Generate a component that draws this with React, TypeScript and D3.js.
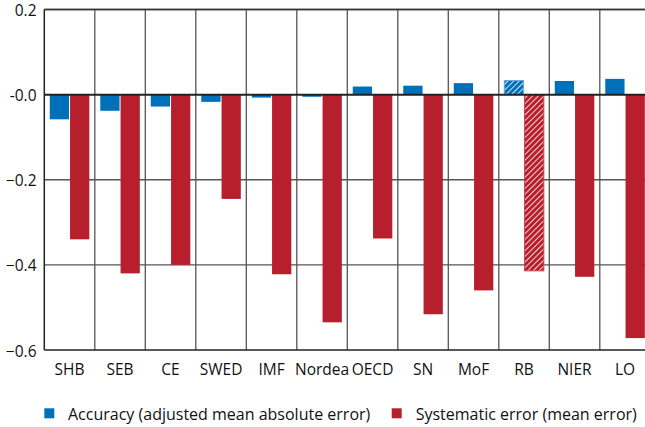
import * as d3 from 'd3';

const categories = ['SHB', 'SEB', 'CE', 'SWED', 'IMF', 'Nordea', 'OECD', 'SN', 'MoF', 'RB', 'NIER', 'LO'];
const accuracy = [-0.058, -0.038, -0.028, -0.017, -0.007, -0.005, 0.019, 0.021, 0.027, 0.033, 0.032, 0.037];
const systematic = [-0.34, -0.42, -0.40, -0.245, -0.422, -0.535, -0.338, -0.516, -0.46, -0.414, -0.428, -0.572];
const hatched = ['RB'];
const yTicks = [0.2, 0, -0.2, -0.4, -0.6];
const seriesNames = ['Accuracy (adjusted mean absolute error)', 'Systematic error (mean error)'];

const BLUE = '#0070b9';
const RED = '#b71f2d';
const FONT = '"Open Sans", Lato, sans-serif';

export default function App() {
  const width = 645;
  const height = 427;
  const left = 44.3;
  const step = 50.5;
  const right = left + step * categories.length;

  const x = d3.scaleBand<string>().domain(categories).range([left, right]);
  const inner = d3.scaleBand<string>().domain(['acc', 'sys']).range([0, step]).paddingOuter(0.27).paddingInner(0.05);
  const y = d3.scaleLinear().domain([-0.6, 0.2]).range([350, 9.5]);

  const fmt = (v: number) => (v === 0 ? '-0.0' : d3.format('.1f')(v));

  return (
    <svg width={width} height={height} style={{ position: 'absolute', left: 0, top: 0, background: '#fff' }}>
      <defs>
        <pattern id="hatchBlue" width="4" height="4" patternUnits="userSpaceOnUse" patternTransform="rotate(45)">
          <rect width="4" height="4" fill={BLUE} />
          <line x1="0" y1="0" x2="0" y2="4" stroke="#fff" strokeWidth="1.6" />
        </pattern>
        <pattern id="hatchRed" width="4" height="4" patternUnits="userSpaceOnUse" patternTransform="rotate(45)">
          <rect width="4" height="4" fill={RED} />
          <line x1="0" y1="0" x2="0" y2="4" stroke="#fff" strokeWidth="1.6" />
        </pattern>
      </defs>

      {/* horizontal grid */}
      {yTicks.filter(t => t !== 0 && t !== -0.6).map(t => (
        <line key={t} x1={left} x2={right} y1={y(t)} y2={y(t)} stroke="#555" strokeWidth={1.3} />
      ))}
      {/* vertical category separators */}
      {categories.slice(1).map(c => (
        <line key={c} x1={x(c)} x2={x(c)} y1={y(0.2)} y2={y(-0.6)} stroke="#555" strokeWidth={1.3} />
      ))}

      {/* bars */}
      {categories.map((c, i) => {
        const isHatched = hatched.includes(c);
        const a = accuracy[i];
        const s = systematic[i];
        const bx = (x(c) ?? 0) + (inner('acc') ?? 0);
        const rx = (x(c) ?? 0) + (inner('sys') ?? 0);
        return (
          <g key={c}>
            <rect
              x={bx}
              y={y(Math.max(0, a))}
              width={inner.bandwidth()}
              height={Math.abs(y(a) - y(0))}
              fill={isHatched ? 'url(#hatchBlue)' : BLUE}
              stroke={isHatched ? '#6aa8d8' : 'none'}
              strokeWidth={1}
            />
            <rect
              x={rx}
              y={y(Math.max(0, s))}
              width={inner.bandwidth()}
              height={Math.abs(y(s) - y(0))}
              fill={isHatched ? 'url(#hatchRed)' : RED}
              stroke={isHatched ? '#c8434f' : 'none'}
              strokeWidth={1}
            />
          </g>
        );
      })}

      {/* frame */}
      <line x1={left} x2={right} y1={y(0.2)} y2={y(0.2)} stroke="#333" strokeWidth={1.3} />
      <line x1={left} x2={right} y1={y(0)} y2={y(0)} stroke="#222" strokeWidth={2} />
      <line x1={left} x2={right} y1={y(-0.6)} y2={y(-0.6)} stroke="#222" strokeWidth={1.5} />
      <line x1={left} x2={left} y1={y(0.2)} y2={y(-0.6)} stroke="#222" strokeWidth={1.5} />

      {/* y tick labels */}
      {yTicks.map(t => (
        <text key={t} x={36.5} y={y(t) + 6.5} textAnchor="end" fontFamily={FONT} fontSize={15.5} fill="#111">
          {fmt(t)}
        </text>
      ))}

      {/* x labels */}
      {categories.map(c => (
        <text key={c} x={(x(c) ?? 0) + step / 2} y={375} textAnchor="middle" fontFamily={FONT} fontSize={15.5} fill="#111">
          {c}
        </text>
      ))}

      {/* legend */}
      <rect x={44.3} y={408.3} width={10} height={10} fill={BLUE} />
      <text x={68} y={420} fontFamily={FONT} fontSize={16} fill="#111">{seriesNames[0]}</text>
      <rect x={391.7} y={408.3} width={10} height={10} fill={RED} />
      <text x={415.7} y={420} fontFamily={FONT} fontSize={16} fill="#111">{seriesNames[1]}</text>
    </svg>
  );
}
